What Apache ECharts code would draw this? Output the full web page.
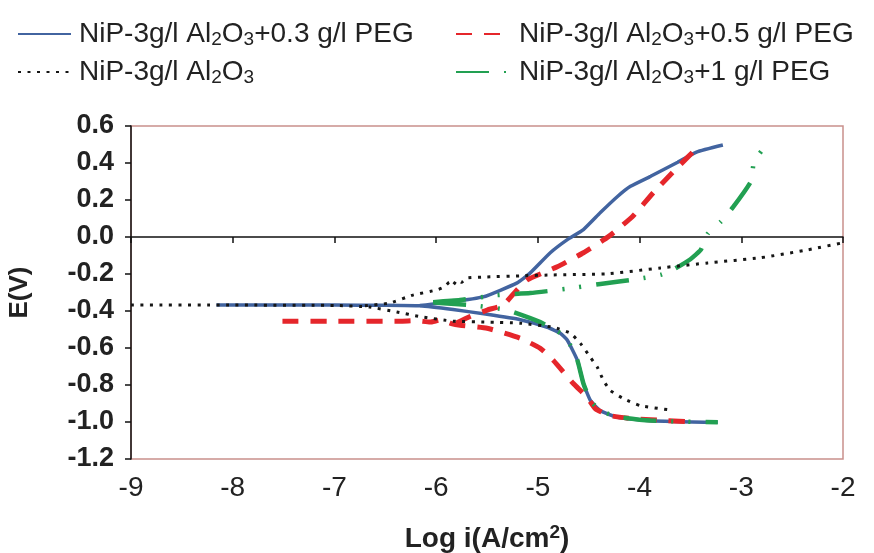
<!DOCTYPE html>
<html><head><meta charset="utf-8">
<script src="https://cdn.jsdelivr.net/npm/echarts@6/dist/echarts.min.js"></script>
<style>html,body{margin:0;padding:0;background:#fff}#c{width:874px;height:553px}</style>
</head><body><div id="c"></div>
<script>
const seriesNames = ['NiP-3g/l Al2O3+0.3 g/l PEG', 'NiP-3g/l Al2O3+0.5 g/l PEG', 'NiP-3g/l Al2O3', 'NiP-3g/l Al2O3+1 g/l PEG'];
const xTicks = [-9, -8, -7, -6, -5, -4, -3, -2];
const yTickLabels = ['-1.2', '-1.0', '-0.8', '-0.6', '-0.4', '-0.2', '0.0', '0.2', '0.4', '0.6'];

// NiP-3g/l Al2O3+0.3 g/l PEG (blue)
const blueCath = [[-8.16,-0.368],[-7.5,-0.368],[-7.0,-0.368],[-6.5,-0.369],[-6.16,-0.372],[-5.834,-0.392],[-5.499,-0.418],[-5.173,-0.447],[-4.907,-0.488],[-4.78,-0.52],[-4.71,-0.558],[-4.611,-0.667],[-4.552,-0.792],[-4.483,-0.884],[-4.385,-0.939],[-4.217,-0.974],[-3.891,-0.993],[-3.231,-1.002]];
const blueAnod = [[-6.16,-0.370],[-5.864,-0.352],[-5.538,-0.324],[-5.203,-0.248],[-5.075,-0.194],[-4.878,-0.085],[-4.710,-0.014],[-4.552,0.040],[-4.385,0.132],[-4.217,0.219],[-4.089,0.274],[-3.891,0.328],[-3.625,0.404],[-3.440,0.459],[-3.181,0.497]];

// NiP-3g/l Al2O3+0.5 g/l PEG (red)
const redCath = [[-7.511,-0.455],[-7.0,-0.455],[-6.357,-0.455],[-6.2,-0.452],[-6.061,-0.46],[-5.95,-0.448],[-5.85,-0.468],[-5.765,-0.477],[-5.499,-0.493],[-5.173,-0.547],[-4.976,-0.602],[-4.848,-0.667],[-4.651,-0.792],[-4.513,-0.868],[-4.434,-0.928],[-4.286,-0.966],[-4.059,-0.982],[-3.724,-0.993],[-3.497,-0.999]];
const redAnod = [[-5.80,-0.465],[-5.667,-0.430],[-5.499,-0.395],[-5.341,-0.368],[-5.223,-0.297],[-5.105,-0.232],[-4.809,-0.161],[-4.552,-0.085],[-4.306,0.002],[-4.069,0.111],[-3.862,0.241],[-3.625,0.377],[-3.428,0.486]];

// NiP-3g/l Al2O3 (black dotted)
const blackCath = [[-9,-0.368],[-8,-0.368],[-7,-0.370],[-6.653,-0.379],[-6.387,-0.405],[-6.16,-0.430],[-5.834,-0.455],[-5.499,-0.460],[-5.173,-0.466],[-4.848,-0.488],[-4.680,-0.520],[-4.582,-0.575],[-4.483,-0.651],[-4.414,-0.705],[-4.355,-0.776],[-4.286,-0.830],[-4.158,-0.874],[-3.990,-0.912],[-3.714,-0.934]];
const blackAnod = [[-6.7,-0.372],[-6.456,-0.357],[-6.229,-0.314],[-5.992,-0.286],[-5.92,-0.27],[-5.87,-0.245],[-5.84,-0.262],[-5.79,-0.232],[-5.75,-0.245],[-5.70,-0.222],[-5.499,-0.216],[-5.173,-0.210],[-4.848,-0.205],[-4.316,-0.199],[-3.793,-0.167],[-3.329,-0.140],[-2.807,-0.112],[-2.343,-0.069],[-2.0,-0.031]];

// NiP-3g/l Al2O3+1 g/l PEG (green dash-dot)
const greenCath = [[-6.03,-0.352],[-5.963,-0.357],[-5.667,-0.368],[-5.302,-0.395],[-4.976,-0.460],[-4.779,-0.520],[-4.680,-0.585],[-4.611,-0.667],[-4.552,-0.792],[-4.483,-0.884],[-4.385,-0.939],[-4.217,-0.972],[-3.891,-0.992],[-3.231,-1.002]];
const greenAnod = [[-6.03,-0.352],[-5.765,-0.341],[-5.400,-0.314],[-5.075,-0.303],[-4.730,-0.281],[-4.385,-0.254],[-4.020,-0.227],[-3.793,-0.205],[-3.665,-0.175],[-3.50,-0.12],[-3.398,-0.069],[-3.329,0.018],[-3.201,0.083],[-3.083,0.160],[-2.905,0.301],[-2.876,0.404],[-2.767,0.491]];

const FONT = '"Liberation Sans", Arial, sans-serif';
const styles = {
  blue: {color:'#4264a0', width:3.5, type:'solid'},
  red: {color:'#e5262b', width:5, type:[16,12]},
  black: {color:'#161616', width:3, type:[3,6.5]},
  green: {color:'#22a052', width:4.5, type:[33,15,2,15,2,15]}
};
function mk(name, data, st, z){
  return {type:'line', name:name, data:data, symbol:'none', showSymbol:false, smooth:0.15, z:z,
    lineStyle:{color:st.color, width:st.width, type:st.type, cap:'butt'}, itemStyle:{color:st.color}, silent:true, animation:false};
}
const series = [
  mk(seriesNames[0], blueCath, styles.blue, 2), mk(seriesNames[0], blueAnod, styles.blue, 2),
  mk(seriesNames[1], redCath, styles.red, 3), mk(seriesNames[1], redAnod, styles.red, 3),
  mk(seriesNames[3], greenCath, styles.green, 4), mk(seriesNames[3], greenAnod, styles.green, 4),
  mk(seriesNames[2], blackCath, styles.black, 5), mk(seriesNames[2], blackAnod, styles.black, 5)
];
const legText = {fontFamily:FONT, fontSize:28, color:'#222', lineHeight:30, padding:[0,0,0,3],
  rich:{s:{fontFamily:FONT, fontSize:19, color:'#222', lineHeight:17, verticalAlign:'bottom'}}};
const legFmt = n => n.replace('Al2O3', 'Al{s|2}O{s|3}');
const legCommon = {orient:'vertical', itemHeight:14, itemGap:8, selectedMode:false, textStyle:legText, formatter:legFmt,
  itemStyle:{opacity:0, borderWidth:0}};
const chart = echarts.init(document.getElementById('c'), null, {renderer:'canvas'});
chart.setOption({
  animation:false,
  backgroundColor:'#fff',
  grid:{left:131, right:31, top:126, bottom:94, outerBoundsMode:'none', containLabel:false, show:true, borderColor:'#c9908c', borderWidth:1.5, backgroundColor:'transparent'},
  legend:[
    Object.assign({data:[seriesNames[0], seriesNames[2]], left:12, top:14, itemWidth:53}, legCommon),
    Object.assign({data:[seriesNames[1], seriesNames[3]], left:450, top:14, itemWidth:55}, legCommon)
  ],
  xAxis:{type:'value', min:xTicks[0], max:xTicks[xTicks.length-1], interval:1,
    name:'Log i(A/cm{sup|2})', nameLocation:'middle', nameGap:64,
    nameTextStyle:{fontFamily:FONT, fontSize:28, fontWeight:'bold', color:'#222', lineHeight:32,
      rich:{sup:{fontFamily:FONT, fontSize:19, fontWeight:'bold', color:'#222', lineHeight:18, verticalAlign:'top'}}},
    axisLine:{show:true, lineStyle:{color:'#111', width:1.5}},
    axisTick:{show:true, length:6, lineStyle:{color:'#111', width:1.5}},
    axisLabel:{fontFamily:FONT, fontSize:28, color:'#222', margin:15, formatter:v => String(v)},
    splitLine:{show:false}},
  yAxis:{type:'value', min:-1.2, max:0.6, interval:0.2,
    name:'E(V)', nameLocation:'middle', nameGap:98,
    nameTextStyle:{fontFamily:FONT, fontSize:26, fontWeight:'bold', color:'#222'},
    axisLine:{show:true, lineStyle:{color:'#111', width:1.5}},
    axisTick:{show:true, length:6, lineStyle:{color:'#111', width:1.5}},
    axisLabel:{fontFamily:FONT, fontSize:27, fontWeight:'bold', color:'#222', margin:17,
      formatter:v => { const i = Math.round((v + 1.2) / 0.2); return yTickLabels[i] !== undefined ? yTickLabels[i] : v.toFixed(1); }},
    splitLine:{show:false}},
  series:series
});
</script></body></html>
